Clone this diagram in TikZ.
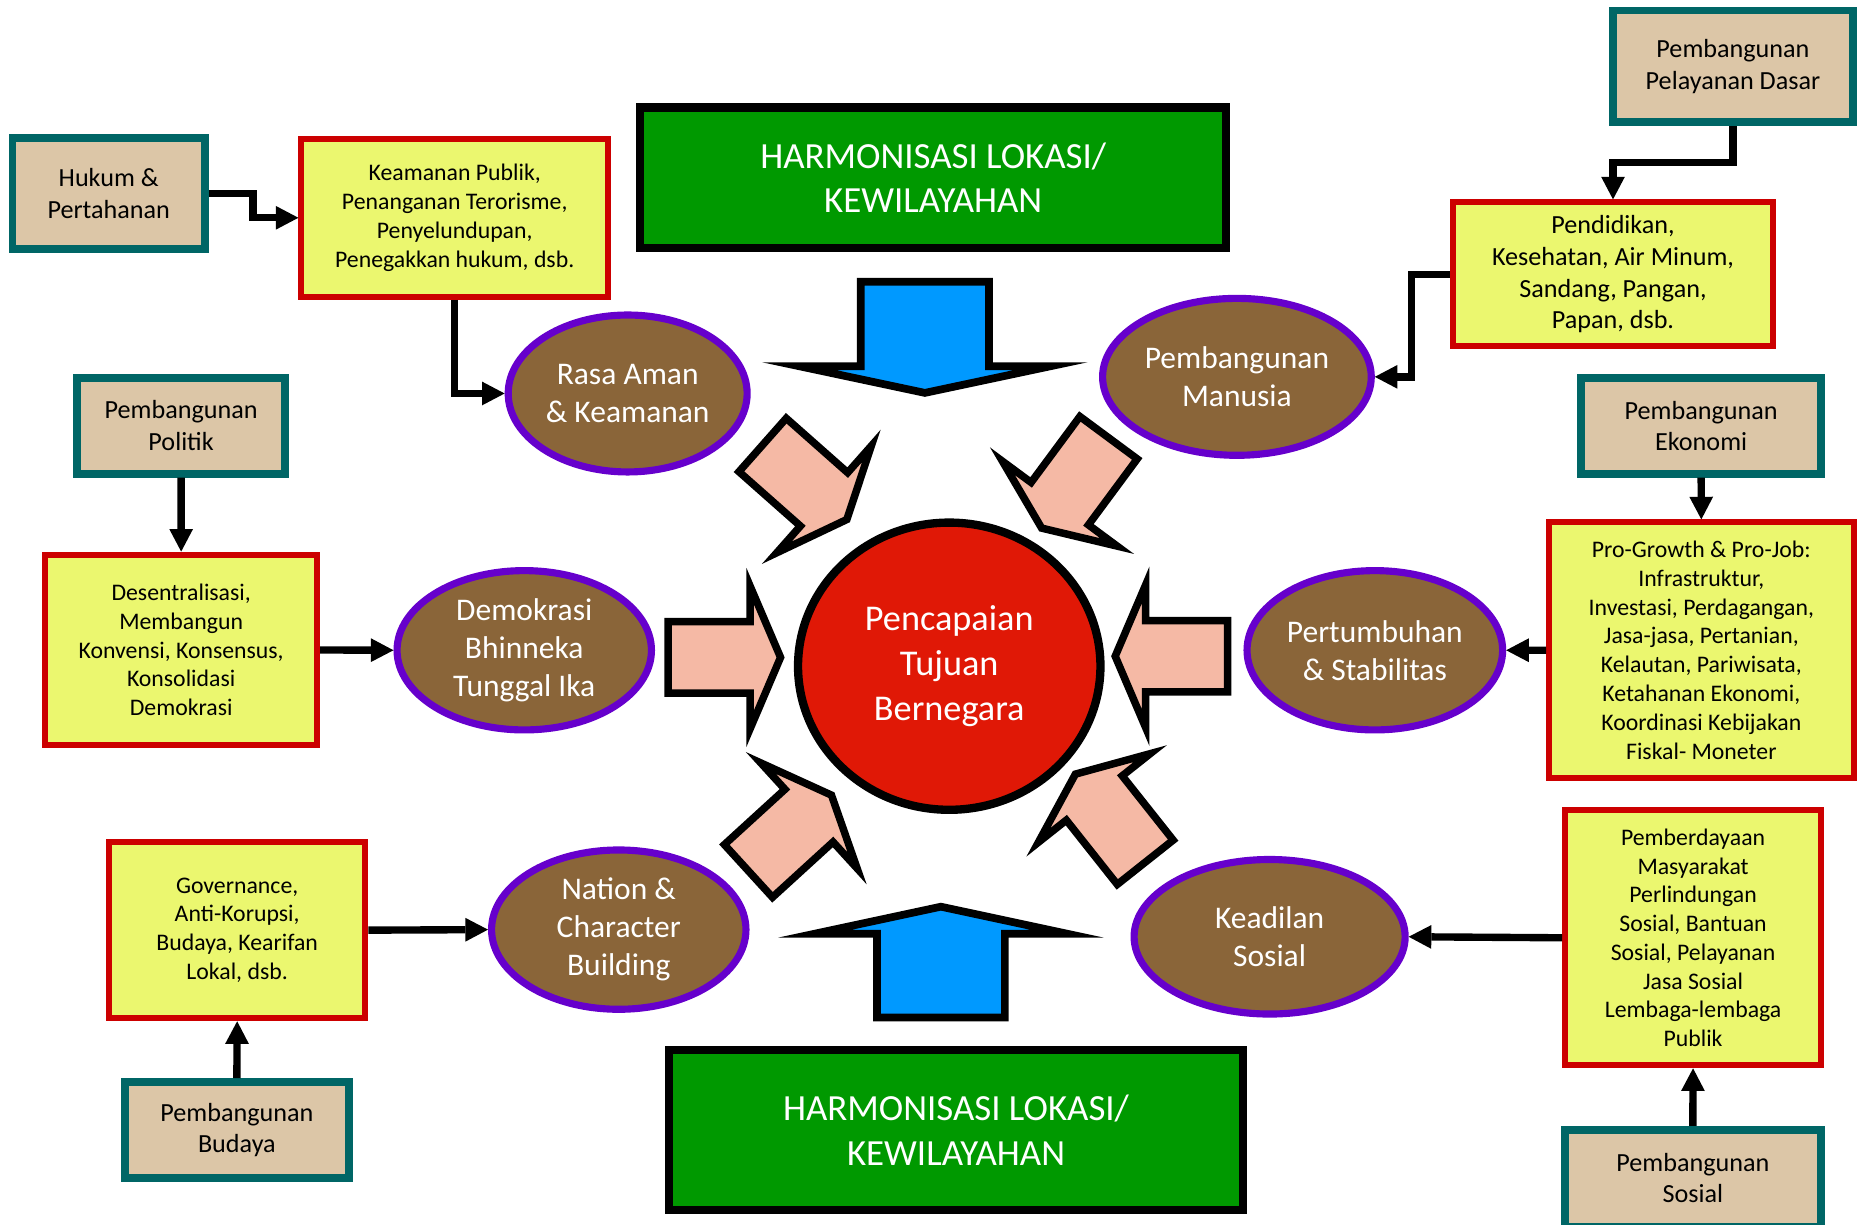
\documentclass[tikz,border=0pt]{standalone}
\usepackage{fontspec}
\setmainfont{Carlito}
\usetikzlibrary{arrows.meta,shapes.geometric}

\definecolor{tealb}{HTML}{006666}
\definecolor{tanf}{HTML}{DCC6A7}
\definecolor{yellowf}{HTML}{EBF76F}
\definecolor{redb}{HTML}{CC0000}
\definecolor{greenf}{HTML}{009900}
\definecolor{bluef}{HTML}{0099FF}
\definecolor{pinkf}{HTML}{F5B9A5}
\definecolor{brownf}{HTML}{8A6539}
\definecolor{purpleb}{HTML}{6600CC}
\definecolor{redf}{HTML}{E01806}

% block arrow pointing toward the centre: tail midpoint (x,y), rotation
\newcommand\pinkarrow[3]{%
  \draw[pinkblock, shift={(#1,#2)}, rotate=#3]
    (2,-30) -- (71,-30) -- (71,-60) -- (96.6,0) -- (71,60) -- (71,30) -- (2,30) -- cycle;}

\begin{document}
\begin{tikzpicture}[x=1pt,y=-1pt,
  srcbox/.style={draw=tealb, fill=tanf, line width=6.5pt, inner sep=0pt,
    align=center, font=\fontsize{22}{26.6}\selectfont},
  itembox/.style={draw=redb, fill=yellowf, line width=5pt, inner sep=0pt,
    align=center, font=\fontsize{20}{24.2}\selectfont},
  goalbox/.style={draw=black, fill=greenf, line width=7pt, inner sep=0pt,
    align=center, text=white, font=\fontsize{31}{37.5}\selectfont},
  aspect/.style={ellipse, draw=purpleb, fill=brownf, line width=6pt, inner sep=0pt,
    align=center, text=white, font=\fontsize{26.5}{32}\selectfont},
  core/.style={ellipse, draw=black, fill=redf, line width=7pt, inner sep=0pt,
    align=center, text=white, font=\fontsize{30.5}{37.5}\selectfont},
  conn/.style={line width=6.2pt, line join=miter,
    -{Triangle[width=20pt,length=19pt,line width=0pt]}},
  pinkblock/.style={draw=black, fill=pinkf, line width=6.3pt, line join=miter, miter limit=25},
  blueblock/.style={draw=black, fill=bluef, line width=6.5pt, line join=miter, miter limit=25}]

\useasboundingbox (0,0) rectangle (1568,1030);
\fill[white] (0,0) rectangle (1568,1030);

% sources (teal framed)
\node[srcbox, minimum width=161.8pt, minimum height=93.8pt] (hukum) at (91.45,162.85) {Hukum \&\\Pertahanan};
\node[srcbox, minimum width=202pt, minimum height=93.9pt] (dasar) at (1457.75,55.8) {Pembangunan\\Pelayanan Dasar};
\node[srcbox, minimum width=174.8pt, minimum height=80.7pt] (politik) at (152.35,358.2) {Pembangunan\\Politik};
\node[srcbox, minimum width=201.9pt, minimum height=80.7pt] (ekonomi) at (1431,358.2) {Pembangunan\\Ekonomi};
\node[srcbox, minimum width=188.4pt, minimum height=80.5pt] (budaya) at (199.25,950.5) {Pembangunan\\Budaya};
\node[srcbox, minimum width=215.5pt, minimum height=81.5pt] (sosial) at (1424,991) {Pembangunan\\Sosial};

% programme boxes (red framed)
\node[itembox, minimum width=258pt, minimum height=132.6pt] (keam) at (382.5,183.2)
  {Keamanan Publik,\\Penanganan Terorisme,\\Penyelundupan,\\Penegakkan hukum, dsb.};
\node[itembox, minimum width=269.3pt, minimum height=120.9pt,
  font=\fontsize{22}{26.8}\selectfont] (pend) at (1356.85,230.65)
  {Pendidikan,\\Kesehatan, Air Minum,\\Sandang, Pangan,\\Papan, dsb.};
\node[itembox, minimum width=228.6pt, minimum height=160.5pt] (desent) at (152.4,546.75)
  {Desentralisasi,\\Membangun\\Konvensi, Konsensus,\\Konsolidasi\\Demokrasi};
\node[itembox, minimum width=256.3pt, minimum height=215.1pt] (progrowth) at (1431.15,546.95)
  {Pro-Growth \& Pro-Job:\\Infrastruktur,\\Investasi, Perdagangan,\\Jasa-jasa, Pertanian,\\Kelautan, Pariwisata,\\Ketahanan Ekonomi,\\Koordinasi Kebijakan\\Fiskal- Moneter};
\node[itembox, minimum width=215.6pt, minimum height=148.3pt] (gov) at (199.5,782.45)
  {Governance,\\Anti-Korupsi,\\Budaya, Kearifan\\Lokal, dsb.};
\node[itembox, minimum width=215.4pt, minimum height=214.7pt] (pember) at (1424.2,788.85)
  {Pemberdayaan\\Masyarakat\\Perlindungan\\Sosial, Bantuan\\Sosial, Pelayanan\\Jasa Sosial\\Lembaga-lembaga\\Publik};

% regional harmonisation banners
\node[goalbox, minimum width=493pt, minimum height=118pt] (harmtop) at (785,149.5)
  {HARMONISASI LOKASI/\\KEWILAYAHAN};
\node[goalbox, minimum width=482.6pt, minimum height=134.2pt] (harmbot) at (804.2,950.6)
  {\raisebox{-2.5pt}{\parbox{300pt}{\centering HARMONISASI LOKASI/\\KEWILAYAHAN}}};

% development aspects
\node[aspect, minimum width=201pt, minimum height=132pt] (rasa) at (528,331) {Rasa Aman\\\& Keamanan};
\node[aspect, minimum width=226pt, minimum height=132pt] (manusia) at (1040.5,317) {Pembangunan\\Manusia};
\node[aspect, minimum width=214pt, minimum height=134pt] (demokrasi) at (441,547) {Demokrasi\\Bhinneka\\Tunggal Ika};
\node[aspect, minimum width=215pt, minimum height=134pt] (pertumb) at (1156.5,547) {Pertumbuhan\\\& Stabilitas};
\node[aspect, minimum width=214pt, minimum height=134pt] (nation) at (520.5,782) {Nation \&\\Character\\Building};
\node[aspect, minimum width=228pt, minimum height=130pt] (keadilan) at (1068,788) {Keadilan\\Sosial};

% national goal
\node[core, minimum width=254.4pt, minimum height=241.6pt] (goal) at (798.5,560.4) {Pencapaian\\Tujuan\\Bernegara};

% block arrows towards the goal
\pinkarrow{560}{553}{0}
\pinkarrow{1034.7}{552}{180}
\pinkarrow{640}{373}{-41.5}
\pinkarrow{933.7}{366.6}{-126.5}
\pinkarrow{628.1}{734}{42.4}
\pinkarrow{964.6}{726.9}{128.4}

% harmonisation arrows
\draw[blueblock] (724,237) -- (832,237) -- (832,308) -- (884,308) -- (778,330.5)
  -- (672,308) -- (724,308) -- cycle;
\draw[blueblock] (737.8,856) -- (845.3,856) -- (845.3,785.4) -- (897.5,785.4) -- (791.5,762.7)
  -- (685.5,785.4) -- (737.8,785.4) -- cycle;

% connectors
\draw[conn] (hukum.east) -- ++(37.3,0) |- (keam.west);
\draw[conn] (keam.south) |- (rasa.west);
\draw[conn] (dasar.south) -- ++(0,30.6) -| (pend.north);
\draw[conn] (pend.west) -- ++(-32.2,0) |- (manusia.east);
\draw[conn] (politik.south) -- (desent.north);
\draw[conn] (desent.east) -- (demokrasi.west);
\draw[conn] (ekonomi.south) -- (progrowth.north);
\draw[conn] (progrowth.west) -- (pertumb.east);
\draw[conn] (budaya.north) -- (gov.south);
\draw[conn] (gov.east) -- (nation.west);
\draw[conn] (sosial.north) -- (pember.south);
\draw[conn] (pember.west) -- (keadilan.east);
\end{tikzpicture}
\end{document}
